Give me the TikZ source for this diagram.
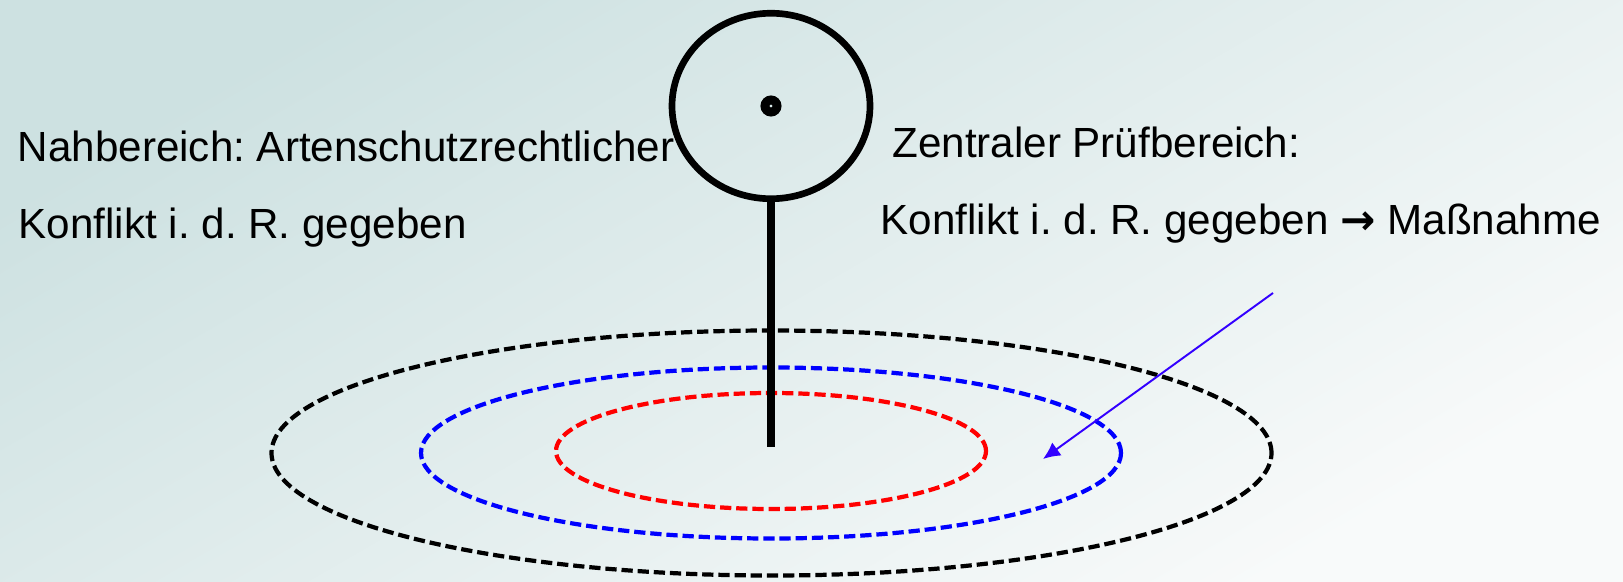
\documentclass[tikz,border=0pt]{standalone}
\usepackage{fontspec}
\setmainfont{Liberation Sans}
\newfontfamily\pfeilfont{DejaVu Sans}
\usetikzlibrary{shapes.geometric,arrows.meta}
\definecolor{bgA}{HTML}{CDE1E1}
\definecolor{bgB}{HTML}{F8FAFA}
\definecolor{pfeil}{HTML}{3300FF}
\definecolor{rot}{HTML}{FF0000}
\definecolor{blau}{HTML}{0000FF}
\frenchspacing
\begin{document}
\begin{tikzpicture}[
		ring/.style={dash pattern=on 6.4pt off 2.8pt, line width=2.4pt},
		txt/.style={anchor=base west, inner sep=0pt, font=\fontsize{24}{28}\selectfont}]
			\useasboundingbox (0,0) rectangle (32.46,11.62);
			\shade[top color=bgA, bottom color=bgB, shading angle=30] (0,0) rectangle (32.46,11.62);%fond
			
			\draw[ring] (15.43,2.56) ellipse (10 and 2.45);
			\draw[ring,blau] (15.42,2.56) ellipse (7 and 1.71);
			\draw[ring,rot] (15.42,2.6) ellipse (4.3 and 1.16);
			
			\node[draw, ellipse, line width=3.8pt, minimum width=3.96cm, minimum height=3.71cm, inner sep=0pt] (kopf) at (15.42,9.5) {};
			\draw[line width=5.1pt] (kopf.center) circle (0.12);%punkt
			\coordinate (fuss) at (15.42,2.68);
			\draw[line width=4pt] (kopf.south) -- (fuss);
			
			\coordinate (pfeilA) at (25.46,5.76);
			\coordinate (pfeilB) at (20.86,2.44);
			\draw[-{Latex[length=0.34cm,width=0.32cm]}, pfeil, line width=1.1pt] (pfeilA) -- (pfeilB);
			
			\node[txt] (nah1) at (0.35,8.386) {Nahbereich: Artenschutzrechtlicher};
			\node[txt] (nah2) at (0.37,6.854) {Konflikt i. d. R. gegeben};
			\node[txt] (zen1) at (17.84,8.466) {Zentraler Prüfbereich:};
			\node[txt] (zen2) at (17.61,6.94) {Konflikt i. d. R. gegeben {\pfeilfont\bfseries →} Maßnahme};
		\end{tikzpicture}
\end{document}
